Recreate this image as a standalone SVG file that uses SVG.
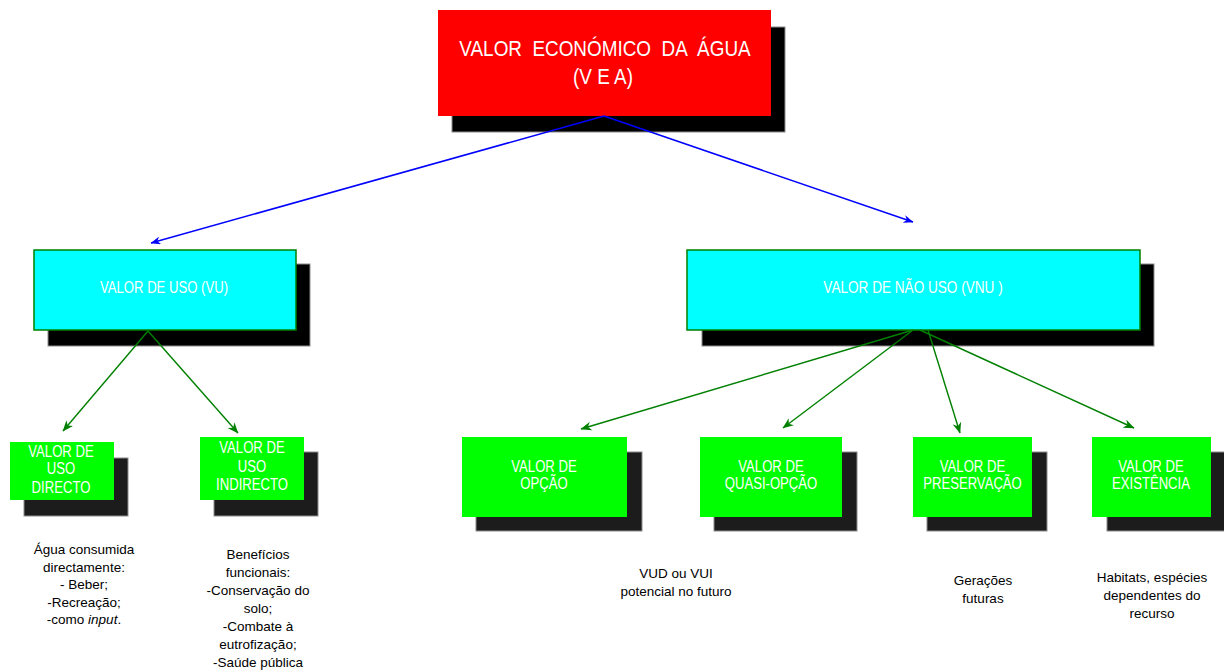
<svg xmlns="http://www.w3.org/2000/svg" width="1224" height="672" viewBox="0 0 1224 672">
  <style>
    .shadow { fill: #000000; stroke: #8c8c8c; stroke-width: 1; }
    .shadow-s { fill: #1c1c1c; stroke: #8c8c8c; stroke-width: 1; }
    .red { fill: #ff0000; }
    .cyan { fill: #00ffff; stroke: #008000; stroke-width: 1.5; }
    .green { fill: #00ff00; }
    .lbl { font-family: "Liberation Sans", Arial, sans-serif; font-size: 16px; fill: #ffffff; text-anchor: middle; }
    .title { font-size: 22px; }
    .note { font-family: "Liberation Sans", Arial, sans-serif; font-size: 13.5px; fill: #000000; text-anchor: middle; }
    .blue { stroke: #0000ff; stroke-width: 1.5; fill: none; }
    .dgreen { stroke: #008000; stroke-width: 1.4; fill: none; }
  </style>
  <defs>
    <marker id="ah-blue" viewBox="0 0 10 8" refX="9.5" refY="4" markerWidth="10" markerHeight="8" orient="auto" markerUnits="userSpaceOnUse">
      <path d="M0,0 L10,4 L0,8 L3,4 z" fill="#0000ff"/>
    </marker>
    <marker id="ah-green" viewBox="0 0 10 8" refX="9.5" refY="4" markerWidth="11" markerHeight="9" orient="auto" markerUnits="userSpaceOnUse">
      <path d="M0,0 L10,4 L0,8 L3,4 z" fill="#008000"/>
    </marker>
  </defs>

  <rect width="1224" height="672" fill="#ffffff"/>

  <!-- root node -->
  <g id="node-vea">
    <rect class="shadow" x="452" y="27" width="333" height="105"/>
    <rect class="red" x="438" y="10" width="333" height="106"/>
    <text class="lbl title" transform="translate(605,56) scale(0.86,1)" word-spacing="6">VALOR ECONÓMICO DA ÁGUA</text>
    <text class="lbl title" transform="translate(603,84) scale(0.86,1)">(V E A)</text>
  </g>

  <!-- second level -->
  <g id="node-vu">
    <rect class="shadow" x="48" y="264" width="262" height="82"/>
    <rect class="cyan" x="34" y="250" width="262" height="80"/>
    <text class="lbl" transform="translate(164,293) scale(0.82,1)">VALOR DE USO (VU)</text>
  </g>
  <g id="node-vnu">
    <rect class="shadow" x="702" y="264" width="452" height="82"/>
    <rect class="cyan" x="687" y="250" width="453" height="80"/>
    <text class="lbl" transform="translate(913,293) scale(0.85,1)">VALOR DE NÃO USO (VNU )</text>
  </g>

  <!-- third level -->
  <g id="node-directo">
    <rect class="shadow-s" x="24" y="458" width="104" height="58"/>
    <rect class="green" x="10" y="442" width="104" height="58"/>
    <text class="lbl" transform="translate(61,457) scale(0.82,1)">VALOR DE</text>
    <text class="lbl" transform="translate(61,474) scale(0.82,1)">USO</text>
    <text class="lbl" transform="translate(61,493) scale(0.82,1)">DIRECTO</text>
  </g>
  <g id="node-indirecto">
    <rect class="shadow-s" x="214" y="452" width="104" height="64"/>
    <rect class="green" x="200" y="437" width="104" height="63"/>
    <text class="lbl" transform="translate(252,453) scale(0.82,1)">VALOR DE</text>
    <text class="lbl" transform="translate(252,472) scale(0.82,1)">USO</text>
    <text class="lbl" transform="translate(252,490) scale(0.82,1)">INDIRECTO</text>
  </g>
  <g id="node-opcao">
    <rect class="shadow-s" x="476" y="452" width="166" height="79"/>
    <rect class="green" x="462" y="437" width="165" height="80"/>
    <text class="lbl" transform="translate(544,472) scale(0.82,1)">VALOR DE</text>
    <text class="lbl" transform="translate(544,489) scale(0.82,1)">OPÇÃO</text>
  </g>
  <g id="node-quasi-opcao">
    <rect class="shadow-s" x="714" y="452" width="143" height="79"/>
    <rect class="green" x="700" y="437" width="142" height="80"/>
    <text class="lbl" transform="translate(771,472) scale(0.82,1)">VALOR DE</text>
    <text class="lbl" transform="translate(771,489) scale(0.82,1)">QUASI-OPÇÃO</text>
  </g>
  <g id="node-preservacao">
    <rect class="shadow-s" x="927" y="452" width="120" height="79"/>
    <rect class="green" x="913" y="437" width="119" height="80"/>
    <text class="lbl" transform="translate(972.5,472) scale(0.82,1)">VALOR DE</text>
    <text class="lbl" transform="translate(972.5,489) scale(0.82,1)">PRESERVAÇÃO</text>
  </g>
  <g id="node-existencia">
    <rect class="shadow-s" x="1107" y="452" width="118" height="79"/>
    <rect class="green" x="1092" y="437" width="119" height="80"/>
    <text class="lbl" transform="translate(1151,472) scale(0.82,1)">VALOR DE</text>
    <text class="lbl" transform="translate(1151,489) scale(0.82,1)">EXISTÊNCIA</text>
  </g>

  <!-- connectors, drawn over the drop shadows -->
  <g id="connectors">
    <path class="blue" d="M604,116 L151,243" marker-end="url(#ah-blue)"/>
    <path class="blue" d="M604,116 L913,222" marker-end="url(#ah-blue)"/>
    <path class="dgreen" d="M148,331 L63,431" marker-end="url(#ah-green)"/>
    <path class="dgreen" d="M148,331 L238,433" marker-end="url(#ah-green)"/>
    <path class="dgreen" d="M913,330 L581,429" marker-end="url(#ah-green)"/>
    <path class="dgreen" d="M913,330 L783,428" marker-end="url(#ah-green)"/>
    <path class="dgreen" d="M928,330 L960,433" marker-end="url(#ah-green)"/>
    <path class="dgreen" d="M920,330 L1134,428" marker-end="url(#ah-green)"/>
  </g>

  <!-- descriptive notes under the boxes -->
  <g id="note-directo" class="note">
    <text x="84" y="554">Água consumida</text>
    <text x="84" y="571.5">directamente:</text>
    <text x="84" y="589">- Beber;</text>
    <text x="84" y="606.5">-Recreação;</text>
    <text x="84" y="624">-como <tspan font-style="italic">input</tspan>.</text>
  </g>
  <g id="note-indirecto" class="note">
    <text x="258" y="559">Benefícios</text>
    <text x="258" y="577">funcionais:</text>
    <text x="258" y="595">-Conservação do</text>
    <text x="258" y="613">solo;</text>
    <text x="258" y="631">-Combate à</text>
    <text x="258" y="649">eutrofização;</text>
    <text x="258" y="667">-Saúde pública</text>
  </g>
  <g id="note-opcao" class="note">
    <text x="676" y="578">VUD ou VUI</text>
    <text x="676" y="596">potencial no futuro</text>
  </g>
  <g id="note-preservacao" class="note">
    <text x="983" y="585">Gerações</text>
    <text x="983" y="603">futuras</text>
  </g>
  <g id="note-existencia" class="note">
    <text x="1152" y="582">Habitats, espécies</text>
    <text x="1152" y="600">dependentes do</text>
    <text x="1152" y="618">recurso</text>
  </g>
</svg>
